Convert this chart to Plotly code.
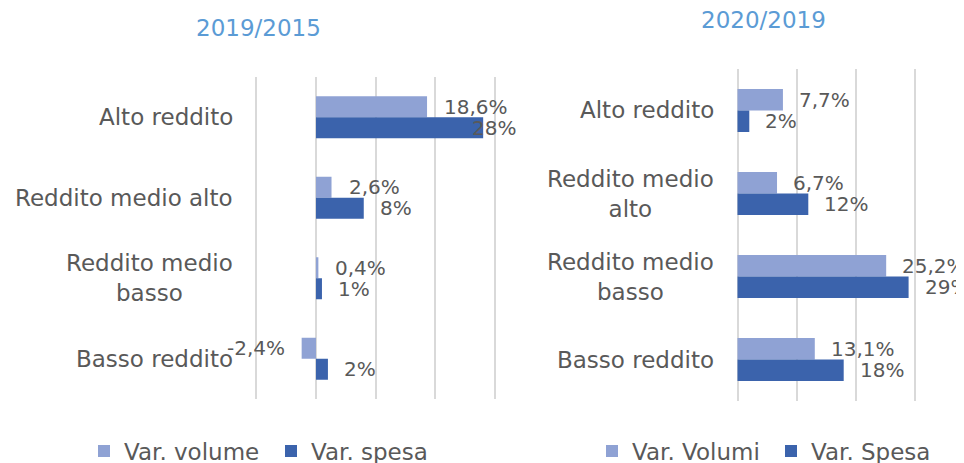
import plotly.graph_objects as go

# ---------------- data ----------------
categories = ["Alto reddito", "Reddito medio alto", "Reddito medio basso", "Basso reddito"]
left_cat_labels = ["Alto reddito", "Reddito medio alto", "Reddito medio<br>basso", "Basso reddito"]
right_cat_labels = ["Alto reddito", "Reddito medio<br>alto", "Reddito medio<br>basso", "Basso reddito"]

left_title = "2019/2015"
right_title = "2020/2019"

left_volume = [18.6, 2.6, 0.4, -2.4]
left_spesa = [28, 8, 1, 2]
right_volumi = [7.7, 6.7, 25.2, 13.1]
right_spesa = [2, 12, 29, 18]

left_names = ["Var. volume", "Var. spesa"]
right_names = ["Var. Volumi", "Var. Spesa"]

# ---------------- style ----------------
PAGE_OFF = 8                 # default body margin of the html page
W, H = 964 - PAGE_OFF, 463 - PAGE_OFF
FONT = "DejaVu Sans"
TXT = "#595959"
LIGHT = "#8FA2D4"
DARK = "#3B63AC"
GRID = "#D9D9D9"
TITLE_COL = "#5B9BD5"
CAT_SIZE = 23
LBL_SIZE = 20
LBL_GAP = 14          # px between bar end and value label
BAR_HALF = 10.5       # px offset of each bar from the category centre
left_spesa_gap = [-13, LBL_GAP, LBL_GAP, LBL_GAP]  # the 28% label sits over the bar end


def px(xp):
    """window pixel x -> paper fraction"""
    return (xp - PAGE_OFF) / W


def py(yp):
    """window pixel y (from top) -> paper fraction"""
    return 1 - (yp - PAGE_OFF) / H


def fmt1(v):
    return f"{v:.1f}%".replace(".", ",")


def fmt0(v):
    return f"{v:.0f}%"


fig = go.Figure()

fig.add_trace(go.Bar(y=categories, x=left_volume, orientation="h", name=left_names[0],
                     marker=dict(color=LIGHT, line=dict(width=0)), xaxis="x", yaxis="y",
                     legend="legend", hoverinfo="skip"))
fig.add_trace(go.Bar(y=categories, x=left_spesa, orientation="h", name=left_names[1],
                     marker=dict(color=DARK, line=dict(width=0)), xaxis="x", yaxis="y",
                     legend="legend", hoverinfo="skip"))
fig.add_trace(go.Bar(y=categories, x=right_volumi, orientation="h", name=right_names[0],
                     marker=dict(color=LIGHT, line=dict(width=0)), xaxis="x2", yaxis="y2",
                     legend="legend2", hoverinfo="skip"))
fig.add_trace(go.Bar(y=categories, x=right_spesa, orientation="h", name=right_names[1],
                     marker=dict(color=DARK, line=dict(width=0)), xaxis="x2", yaxis="y2",
                     legend="legend2", hoverinfo="skip"))

ann = []


def value_labels(xref, yref, vals, texts, shift_y, gaps):
    for c, v, t, g in zip(categories, vals, texts, gaps):
        neg = v < 0
        ann.append(dict(x=v, y=c, xref=xref, yref=yref, text=t, showarrow=False,
                        xanchor="right" if neg else "left", yanchor="middle",
                        xshift=-g if neg else g, yshift=shift_y,
                        font=dict(family=FONT, size=LBL_SIZE, color=TXT)))


value_labels("x", "y", left_volume, [fmt1(v) for v in left_volume], BAR_HALF, [LBL_GAP + 1] * 4)
value_labels("x", "y", left_spesa, [fmt0(v) for v in left_spesa], -BAR_HALF, left_spesa_gap)
value_labels("x2", "y2", right_volumi, [fmt1(v) for v in right_volumi], BAR_HALF, [LBL_GAP] * 4)
value_labels("x2", "y2", right_spesa, [fmt0(v) for v in right_spesa], -BAR_HALF, [LBL_GAP] * 4)

for c, lab in zip(categories, left_cat_labels):
    ann.append(dict(x=px(235), y=c, xref="paper", yref="y", text=lab, showarrow=False,
                    xanchor="right", yanchor="middle", align="center",
                    font=dict(family=FONT, size=CAT_SIZE, color=TXT)))
for c, lab in zip(categories, right_cat_labels):
    ann.append(dict(x=px(716), y=c, xref="paper", yref="y2", text=lab, showarrow=False,
                    xanchor="right", yanchor="middle", align="center",
                    font=dict(family=FONT, size=CAT_SIZE, color=TXT)))

ann.append(dict(x=px(258), y=py(28), xref="paper", yref="paper", text=left_title,
                showarrow=False, xanchor="center", yanchor="middle",
                font=dict(family=FONT, size=CAT_SIZE, color=TITLE_COL)))
ann.append(dict(x=px(763), y=py(20), xref="paper", yref="paper", text=right_title,
                showarrow=False, xanchor="center", yanchor="middle",
                font=dict(family=FONT, size=CAT_SIZE, color=TITLE_COL)))

xcommon = dict(showticklabels=False, showgrid=True, gridcolor=GRID, gridwidth=2,
               zeroline=False, showline=False, ticks="", tick0=0, dtick=10, fixedrange=True)
ycommon = dict(type="category", categoryorder="array", categoryarray=categories,
               range=[3.5, -0.5], showticklabels=False, showgrid=False, zeroline=False,
               showline=False, ticks="", fixedrange=True)

legend_common = dict(orientation="h", xanchor="left", yanchor="middle",
                     font=dict(family=FONT, size=CAT_SIZE, color=TXT),
                     bgcolor="rgba(0,0,0,0)", borderwidth=0,
                     entrywidthmode="pixels", traceorder="normal", itemclick=False,
                     itemdoubleclick=False)

fig.update_layout(
    width=W, height=H,
    margin=dict(l=0, r=0, t=0, b=0, autoexpand=False),
    paper_bgcolor="white", plot_bgcolor="white",
    barmode="group", bargap=0.48, bargroupgap=0,
    font=dict(family=FONT, color=TXT),
    xaxis=dict(domain=[px(253.3), px(498.1)], range=[-10.5, 30.5], anchor="y", **xcommon),
    yaxis=dict(domain=[py(399), py(77)], anchor="x", **ycommon),
    xaxis2=dict(domain=[px(734.55), min(1.0, px(961.7))], range=[-0.5, 38], anchor="y2", **xcommon),
    yaxis2=dict(domain=[py(401), py(69)], anchor="x2", **ycommon),
    legend=dict(x=px(84), y=py(451), entrywidth=142, **legend_common),
    legend2=dict(x=px(592), y=py(451), entrywidth=134, **legend_common),
    annotations=ann,
    showlegend=True,
)

fig.write_html("out.html")
